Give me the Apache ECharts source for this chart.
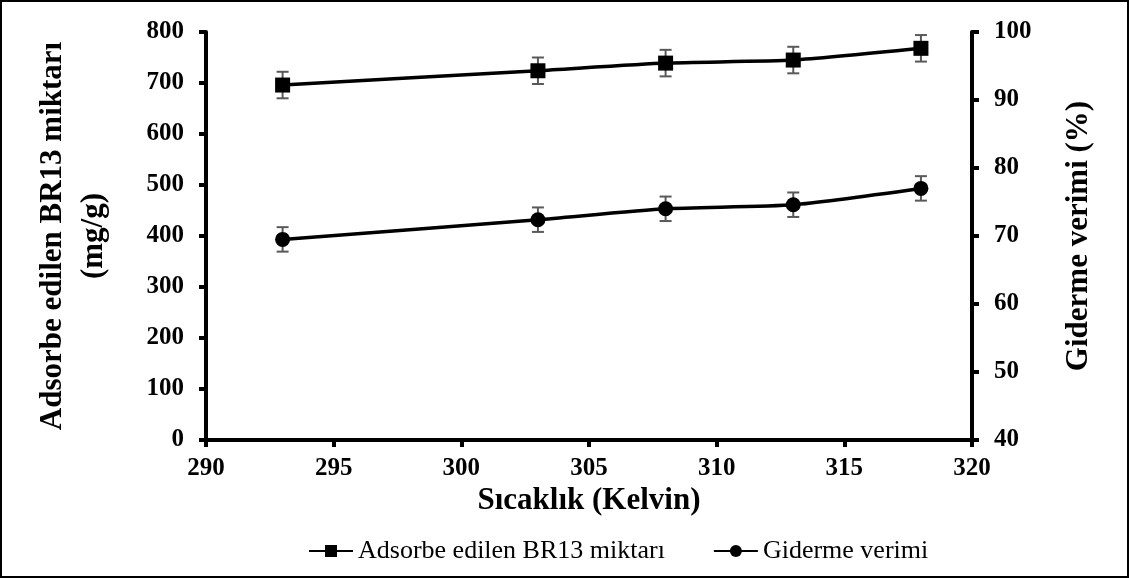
<!DOCTYPE html>
<html><head><meta charset="utf-8">
<script src="https://cdn.jsdelivr.net/npm/echarts@6/dist/echarts.min.js"></script>
<style>html,body{margin:0;padding:0;background:#fff}#c{width:1129px;height:578px}</style>
</head><body><div id="c"></div>
<script>
const temperatures = [293, 303, 308, 313, 318];
const adsorbed = [696, 724, 739, 745, 768];
const adsorbedErr = [26, 26, 26, 26, 26];
const efficiency = [69.5, 72.4, 74.0, 74.6, 77.0];
const efficiencyErr = [1.8, 1.8, 1.8, 1.8, 1.8];
const seriesNames = ['Adsorbe edilen BR13 miktarı', 'Giderme verimi'];

const font = 'Liberation Serif';
const chart = echarts.init(document.getElementById('c'));

function errSeries(vals, errs, yIdx) {
  return {
    type: 'custom', yAxisIndex: yIdx, z: 1, silent: true,
    data: temperatures.map((t, i) => [t, vals[i] - errs[i], vals[i] + errs[i]]),
    renderItem: function (params, api) {
      const lo = api.coord([api.value(0), api.value(1)]);
      const hi = api.coord([api.value(0), api.value(2)]);
      const w = 6;
      const st = { stroke: '#595959', lineWidth: 2 };
      return { type: 'group', children: [
        { type: 'line', shape: { x1: lo[0], y1: lo[1], x2: hi[0], y2: hi[1] }, style: st },
        { type: 'line', shape: { x1: lo[0] - w, y1: lo[1], x2: lo[0] + w, y2: lo[1] }, style: st },
        { type: 'line', shape: { x1: hi[0] - w, y1: hi[1], x2: hi[0] + w, y2: hi[1] }, style: st }
      ]};
    }
  };
}

const axisLabel = { color: '#000', fontFamily: font, fontWeight: 'bold', fontSize: 25 };
const tick = { show: true, inside: false, length: 7, lineStyle: { color: '#000', width: 4 } };
const titleStyle = { color: '#000', fontFamily: font, fontWeight: 'bold', fontSize: 31 };
chart.setOption({
  animation: false,
  graphic: [{ type: 'rect', shape: { x: 1, y: 1, width: 1127, height: 576 }, style: { fill: 'none', stroke: '#000', lineWidth: 2 } }],
  grid: { left: 206, right: 157, top: 32, bottom: 138 },
  xAxis: {
    type: 'value', min: 290, max: 320, interval: 5,
    name: 'Sıcaklık (Kelvin)', nameLocation: 'middle', nameGap: 31,
    nameTextStyle: titleStyle,
    axisLine: { lineStyle: { color: '#000', width: 4 } },
    axisTick: tick,
    axisLabel: Object.assign({ margin: 16 }, axisLabel),
    splitLine: { show: false }
  },
  yAxis: [{
    type: 'value', min: 0, max: 800, interval: 100, position: 'left',
    name: 'Adsorbe edilen BR13 miktarı\n(mg/g)', nameLocation: 'middle', nameGap: 92, nameRotate: 90,
    nameTextStyle: Object.assign({ lineHeight: 41 }, titleStyle),
    axisLine: { show: true, lineStyle: { color: '#000', width: 4 } },
    axisTick: tick,
    axisLabel: Object.assign({ margin: 22 }, axisLabel),
    splitLine: { show: false }
  }, {
    type: 'value', min: 40, max: 100, interval: 10, position: 'right',
    name: 'Giderme verimi (%)', nameLocation: 'middle', nameGap: 91, nameRotate: 90,
    nameTextStyle: titleStyle,
    axisLine: { show: true, lineStyle: { color: '#000', width: 4 } },
    axisTick: tick,
    axisLabel: Object.assign({ margin: 22 }, axisLabel),
    splitLine: { show: false }
  }],
  legend: {
    top: 538, left: 308, padding: 0, itemGap: 48, itemWidth: 44, itemHeight: 15,
    textStyle: { color: '#000', fontFamily: font, fontSize: 26 },
    data: seriesNames
  },
  series: [
    errSeries(adsorbed, adsorbedErr, 0),
    errSeries(efficiency, efficiencyErr, 1),
    {
      name: seriesNames[0], type: 'line', yAxisIndex: 0, z: 3, smooth: 0.2,
      data: temperatures.map((t, i) => [t, adsorbed[i]]),
      symbol: 'rect', symbolSize: 15,
      lineStyle: { color: '#000', width: 3.5 }, itemStyle: { color: '#000' }
    },
    {
      name: seriesNames[1], type: 'line', yAxisIndex: 1, z: 3, smooth: 0.2,
      data: temperatures.map((t, i) => [t, efficiency[i]]),
      symbol: 'circle', symbolSize: 15,
      lineStyle: { color: '#000', width: 3.5 }, itemStyle: { color: '#000' }
    }
  ]
});
</script></body></html>
